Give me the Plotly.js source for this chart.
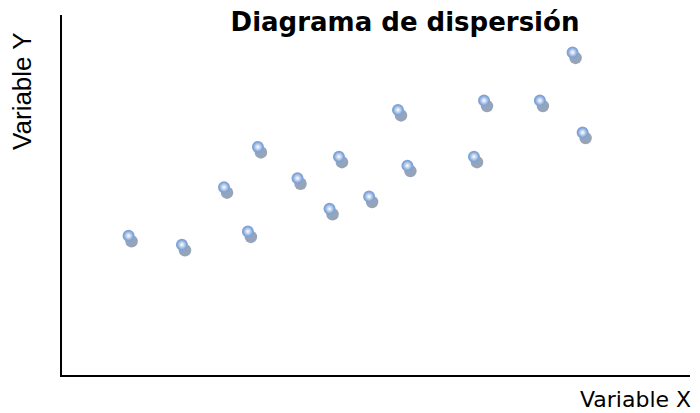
<!DOCTYPE html>
<html>
<head>
<meta charset="utf-8">
<script src="https://cdn.plot.ly/plotly-3.0.1.min.js"></script>
<style>html,body{margin:0;padding:0;background:#fff;}#chart{width:700px;height:413px;}</style>
</head>
<body>
<div id="chart"></div>
<script>
var xValues = [10.6, 19.1, 25.8, 29.6, 31.2, 37.5, 42.6, 44.1, 48.9, 53.5, 55.0, 65.6, 67.2, 76.1, 81.3, 82.9];
var yValues = [38.6, 36.1, 52.1, 39.8, 63.3, 54.6, 46.1, 60.6, 49.5, 73.6, 58.1, 60.6, 76.2, 76.2, 89.6, 67.3];
var chartTitle = 'Diagrama de dispersión';
var xLabel = 'Variable X';
var yLabel = 'Variable Y';

var W = 700, H = 413;
var mL = 62, mT = 15, mR = 7, mB = 32.5;
var plotW = W - mL - mR, plotH = H - mT - mB;
var dx = 3 / plotW, dy = 5.5 / plotH;

var shadow = {
  x: xValues, y: yValues, type: 'scatter', mode: 'markers',
  xaxis: 'x', yaxis: 'y', hoverinfo: 'skip',
  marker: {size: 12.5, color: '#8a9ab0', opacity: 0.9, line: {width: 0}}
};
var points = {
  x: xValues, y: yValues, type: 'scatter', mode: 'markers',
  xaxis: 'x2', yaxis: 'y2',
  marker: {size: 10.5, color: '#749bd3', gradient: {type: 'radial', color: '#ffffff'},
           line: {width: 1.5, color: '#7ea4d8'}}
};

var layout = {
  width: W, height: H,
  margin: {l: mL, r: mR, t: mT, b: mB, pad: 0},
  paper_bgcolor: '#ffffff', plot_bgcolor: 'rgba(0,0,0,0)',
  showlegend: false,
  title: {text: '<b>' + chartTitle + '</b>', xref: 'container', yref: 'container',
          x: 405 / W, y: 1 - 22 / H, xanchor: 'center', yanchor: 'middle',
          font: {family: 'DejaVu Sans', size: 26, color: '#000000'}},
  xaxis: {domain: [dx, 1], range: [0, 100], visible: false, fixedrange: true},
  yaxis: {domain: [0, 1 - dy], range: [0, 100], visible: false, fixedrange: true},
  xaxis2: {domain: [0, 1 - dx], range: [0, 100], anchor: 'y2',
           showline: true, linecolor: '#000000', linewidth: 2, showgrid: false,
           zeroline: false, showticklabels: false, ticks: '', fixedrange: true},
  yaxis2: {domain: [dy, 1], range: [0, 100], anchor: 'x2',
           showline: true, linecolor: '#000000', linewidth: 2, showgrid: false,
           zeroline: false, showticklabels: false, ticks: '', fixedrange: true},
  annotations: [
    {text: yLabel, xref: 'paper', yref: 'paper', x: (22 - mL) / plotW, y: (H - mB - 91) / plotH,
     xanchor: 'center', yanchor: 'middle', textangle: -90, showarrow: false,
     font: {family: 'Liberation Sans', size: 26, color: '#000000'}},
    {text: xLabel, xref: 'paper', yref: 'paper', x: (635 - mL) / plotW, y: (H - mB - 400) / plotH,
     xanchor: 'center', yanchor: 'middle', showarrow: false,
     font: {family: 'DejaVu Sans', size: 22, color: '#000000'}}
  ]
};

Plotly.newPlot('chart', [shadow, points], layout, {displayModeBar: false, staticPlot: true});
</script>
</body>
</html>
